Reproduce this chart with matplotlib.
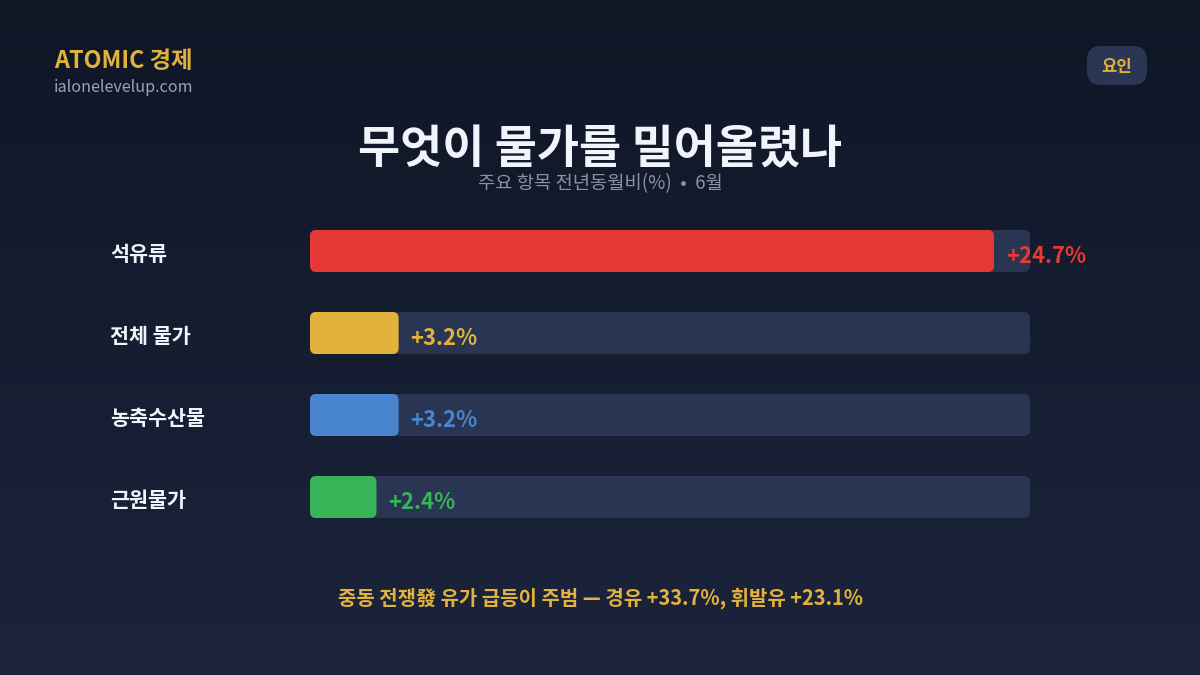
import numpy as np
import matplotlib.pyplot as plt
from matplotlib.patches import FancyBboxPatch

plt.rcParams['font.family'] = ['Noto Sans CJK KR', 'DejaVu Sans']

# data
categories = ['석유류', '전체 물가', '농축수산물', '근원물가']
values = [24.7, 3.2, 3.2, 2.4]
bar_colors = ['#e53935', '#e2b33c', '#4a86d0', '#37b457']
x_max = 26

title = '무엇이 물가를 밀어올렸나'
subtitle = '주요 항목 전년동월비(%)  •  6월'
footer = '중동 전쟁發 유가 급등이 주범 — 경유 +33.7%, 휘발유 +23.1%'
brand = 'ATOMIC 경제'
site = 'ialonelevelup.com'
badge = '요인'

W, H = 1200, 675
fig = plt.figure(figsize=(12, 6.75), dpi=100)

# background in pixel coordinates
bg = fig.add_axes([0, 0, 1, 1])
bg.set_xlim(0, W)
bg.set_ylim(H, 0)
bg.axis('off')
grad = np.linspace(0, 1, 256).reshape(-1, 1)
top = np.array([15, 22, 38]) / 255
bot = np.array([27, 36, 60]) / 255
img = top + (bot - top) * grad[..., None]
bg.imshow(img, extent=[0, W, H, 0], aspect='auto', zorder=0)

gold = '#e2b33c'
bg.text(54, 61, brand, color=gold, fontsize=16.8, fontweight='bold', va='center', ha='left')
bg.text(54, 88, site, color='#9aa3b5', fontsize=11.6, va='center', ha='left')
bg.add_patch(FancyBboxPatch((1087, 46), 60, 39, boxstyle='round,pad=0,rounding_size=14',
                            fc='#2b3654', ec='none', zorder=2))
bg.text(1117, 67, badge, color=gold, fontsize=12, fontweight='bold', ha='center', va='center', zorder=3)

bg.text(600, 150, title, color='#f1f4fa', fontsize=33, fontweight='bold', ha='center', va='center')
bg.text(600, 184, subtitle, color='#8a93a6', fontsize=13.5, ha='center', va='center')
bg.text(600, 598, footer, color=gold, fontsize=14.4, fontweight='bold', ha='center', va='center')

# bar axes: track spans 310..1030 px, rows every 82 px starting at 251
ax = fig.add_axes([310 / W, 1 - 538 / H, 720 / W, 328 / H])
ax.set_xlim(0, x_max)
ax.set_ylim(len(categories) - 0.5, -0.5)
ax.axis('off')

px_x = x_max / 720
px_y = 1 / 82
aspect = px_y / px_x
r = 6 * px_x
bh = 42 * px_y

for i, (cat, v, c) in enumerate(zip(categories, values, bar_colors)):
    ax.add_patch(FancyBboxPatch((0, i - bh / 2), x_max, bh,
                                boxstyle=f'round,pad=0,rounding_size={r}',
                                mutation_aspect=aspect, fc='#2a3553', ec='none', zorder=1))
    ax.add_patch(FancyBboxPatch((0, i - bh / 2), v, bh,
                                boxstyle=f'round,pad=0,rounding_size={r}',
                                mutation_aspect=aspect, fc=c, ec='none', zorder=2))
    ax.annotate(f'+{v}%', (v, i), xytext=(8.5, -4), textcoords='offset points',
                color=c, fontsize=15.8, fontweight='bold', va='center', ha='left', zorder=3)
    ax.annotate(cat, (0, i), xytext=(-200 * 0.72, -2.5), textcoords='offset points',
                color='#f1f4fa', fontsize=14.9, fontweight='bold', va='center', ha='left',
                annotation_clip=False)

fig.savefig('out.png', dpi=100)
